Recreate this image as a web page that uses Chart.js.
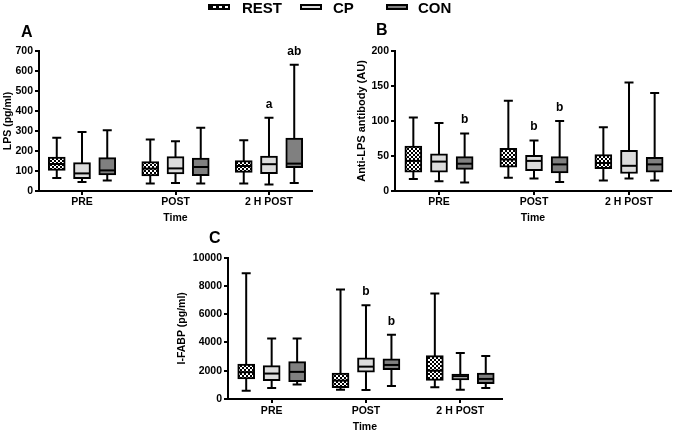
<!DOCTYPE html>
<html><head><meta charset="utf-8">
<script src="https://cdn.jsdelivr.net/npm/chart.js@4.4.1/dist/chart.umd.min.js"></script>
<style>
html,body{margin:0;padding:0;background:#fff;}
#wrap{position:relative;width:674px;height:433px;overflow:hidden;font-family:"Liberation Sans",Arial,sans-serif;background:#fff;}
canvas{position:absolute;}
.lbl{position:absolute;font-weight:bold;font-size:16px;line-height:18px;color:#000;}
.leg{position:absolute;top:0;height:16px;line-height:16px;font-weight:bold;font-size:15px;color:#000;}
.sw{position:absolute;top:4px;width:18px;height:2px;border:2px solid #000;}
</style></head><body>
<div id="wrap">
  <canvas id="cA" width="337" height="225" style="left:0px;top:0px"></canvas>
  <canvas id="cB" width="337" height="225" style="left:337px;top:0px"></canvas>
  <canvas id="cC" width="420" height="208" style="left:130px;top:225px"></canvas>
  <div class="sw" style="left:208px;background:repeating-linear-gradient(90deg,#000 0 3px,#fff 3px 6px);"></div>
  <div class="leg" style="left:242px">REST</div>
  <div class="sw" style="left:300px;background:#dcdcdc;"></div>
  <div class="leg" style="left:333px">CP</div>
  <div class="sw" style="left:386px;background:#808080;"></div>
  <div class="leg" style="left:418px">CON</div>
  <div class="lbl" style="left:21px;top:23px">A</div>
  <div class="lbl" style="left:376px;top:21px">B</div>
  <div class="lbl" style="left:209px;top:229px">C</div>
</div>
<script>
// ---------- DATA ----------
const timepoints = ['PRE', 'POST', '2 H POST'];
const seriesNames = ['REST', 'CP', 'CON'];
// each row: [min, Q1, median, Q3, max] for PRE, POST, 2 H POST
const lpsRest = [[65, 103, 135, 170, 266], [38, 75, 112, 147, 257], [37, 93, 125, 152, 254]];
const lpsCp   = [[45, 62, 88, 142, 295],   [40, 85, 113, 172, 249], [33, 87, 134, 174, 366]];
const lpsCon  = [[52, 80, 103, 167, 304],  [37, 77, 120, 164, 316], [40, 117, 137, 264, 631]];
const lpsTicks = [0, 700, 100];
const lpsMarks = [['2 H POST', 'CP', 'a'], ['2 H POST', 'CON', 'ab']];

const abRest = [[17, 27, 43, 64, 105], [19, 34, 45, 61, 129], [15, 32, 40, 52, 91]];
const abCp   = [[14, 27, 42, 53, 97],  [18, 29, 43, 51, 72],  [18, 25, 36, 58, 155]];
const abCon  = [[12, 31, 39, 49, 82],  [13, 26, 38, 49, 100], [15, 27, 38, 48, 140]];
const abTicks = [0, 200, 50];
const abMarks = [['PRE', 'CON', 'b'], ['POST', 'CP', 'b'], ['POST', 'CON', 'b']];

const fabpRest = [[590, 1420, 1900, 2480, 8900], [660, 800, 1300, 1840, 7750], [830, 1320, 2000, 3070, 7470]];
const fabpCp   = [[780, 1300, 1800, 2360, 4280], [640, 1890, 2290, 2910, 6640], [660, 1350, 1610, 1770, 3260]];
const fabpCon  = [[1020, 1230, 1920, 2650, 4280], [920, 2080, 2410, 2840, 4540], [780, 1090, 1420, 1840, 3050]];
const fabpTicks = [0, 10000, 2000];
const fabpMarks = [['POST', 'CP', 'b'], ['POST', 'CON', 'b']];

// ---------- STYLE ----------
const FONT = "'Liberation Sans', Arial, sans-serif";
Chart.defaults.font.family = FONT;
Chart.defaults.color = '#000';
const BOX_W = 17, CAP_W = 9, LW = 2, GROUP_OFF = 0.27;

function checker(ctx) {
  const c = document.createElement('canvas'); c.width = 4; c.height = 4;
  const g = c.getContext('2d');
  g.fillStyle = '#000'; g.fillRect(0, 0, 4, 4);
  g.fillStyle = '#fff'; g.fillRect(0, 0, 2, 2); g.fillRect(2, 2, 2, 2);
  return ctx.createPattern(c, 'repeat');
}

const boxPlugin = {
  id: 'boxwhisk',
  beforeDatasetsDraw(chart) {
    const ctx = chart.ctx, y = chart.scales.y;
    ctx.save(); ctx.strokeStyle = '#000'; ctx.lineWidth = LW; ctx.lineCap = 'butt';
    chart.data.datasets.forEach((ds, i) => {
      chart.getDatasetMeta(i).data.forEach((el, j) => {
        const s = ds.data[j].stats;
        const x = el.x, yMin = y.getPixelForValue(s[0]), yMax = y.getPixelForValue(s[4]);
        ctx.beginPath();
        ctx.moveTo(x, yMin); ctx.lineTo(x, yMax);
        ctx.moveTo(x - CAP_W / 2, yMin); ctx.lineTo(x + CAP_W / 2, yMin);
        ctx.moveTo(x - CAP_W / 2, yMax); ctx.lineTo(x + CAP_W / 2, yMax);
        ctx.stroke();
      });
    });
    ctx.restore();
  },
  afterDatasetsDraw(chart, args, opts) {
    const ctx = chart.ctx, y = chart.scales.y;
    ctx.save(); ctx.strokeStyle = '#000'; ctx.lineWidth = LW;
    chart.data.datasets.forEach((ds, i) => {
      chart.getDatasetMeta(i).data.forEach((el, j) => {
        const s = ds.data[j].stats;
        const ym = y.getPixelForValue(s[2]);
        ctx.beginPath(); ctx.moveTo(el.x - BOX_W / 2 + 1, ym); ctx.lineTo(el.x + BOX_W / 2 - 1, ym); ctx.stroke();
      });
    });
    ctx.fillStyle = '#000'; ctx.font = 'bold 12px ' + FONT; ctx.textAlign = 'center'; ctx.textBaseline = 'middle';
    (opts.marks || []).forEach(([tp, ser, txt]) => {
      const si = seriesNames.indexOf(ser), ti = timepoints.indexOf(tp);
      const el = chart.getDatasetMeta(si).data[ti];
      const s = chart.data.datasets[si].data[ti].stats;
      ctx.fillText(txt, el.x, y.getPixelForValue(s[4]) - 13.5);
    });
    ctx.restore();
  }
};

function makeChart(id, series, ticks, marks, cfg) {
  const ctx = document.getElementById(id).getContext('2d');
  const fills = [checker(ctx), '#dcdcdc', '#808080'];
  const datasets = series.map((rows, s) => ({
    label: seriesNames[s],
    data: rows.map((r, t) => ({ x: t + (s - 1) * GROUP_OFF, y: [r[1], r[3]], stats: r })),
    backgroundColor: fills[s], borderColor: '#000', borderWidth: 2, borderSkipped: false,
    barThickness: BOX_W, grouped: false
  }));
  const gridOpts = { offset: false, drawOnChartArea: false, drawTicks: true, tickLength: 4, color: '#000', lineWidth: 2 };
  const borderOpts = { display: true, color: '#000', width: 2 };
  return new Chart(ctx, {
    type: 'bar',
    data: { datasets },
    plugins: [boxPlugin],
    options: {
      responsive: false, animation: false, events: [],
      layout: { padding: cfg.pad },
      plugins: { legend: { display: false }, tooltip: { enabled: false }, boxwhisk: { marks } },
      scales: {
        x: {
          type: 'linear', min: cfg.xMin, max: cfg.xMax, offset: false,
          afterBuildTicks(sc) { sc.ticks = timepoints.map((_, i) => ({ value: i })); },
          ticks: { callback: v => timepoints[v], autoSkip: false, maxRotation: 0, color: '#000',
                   font: { size: 10.5, weight: 'bold' }, padding: cfg.xPad },
          grid: gridOpts, border: borderOpts,
          title: { display: true, text: 'Time', color: '#000', font: { size: 10.5, weight: 'bold' },
                   padding: { top: 0, bottom: cfg.tPad } },
          afterFit(sc) { sc.height = cfg.xH; }
        },
        y: {
          min: ticks[0], max: ticks[1],
          ticks: { stepSize: ticks[2], callback: v => String(v), color: '#000',
                   font: { size: 10.5, weight: 'bold' }, padding: 2 },
          grid: gridOpts, border: borderOpts,
          title: { display: true, text: cfg.yTitle, color: '#000', font: { size: cfg.ySize, weight: 'bold' },
                   padding: { top: cfg.yPad, bottom: 0 } },
          afterFit(sc) { sc.width = cfg.yW; }
        }
      }
    }
  });
}

makeChart('cA', [lpsRest, lpsCp, lpsCon], lpsTicks, lpsMarks,
  { pad: { left: 0, top: 51, right: 25, bottom: 0 }, xMin: -0.46, xMax: 2.46, xPad: 1, tPad: 0.7, xH: 34,
    yTitle: 'LPS (pg/ml)', ySize: 10.5, yPad: 1.7, yW: 39 });
makeChart('cB', [abRest, abCp, abCon], abTicks, abMarks,
  { pad: { left: 0, top: 51, right: 3, bottom: 0 }, xMin: -0.463, xMax: 2.442, xPad: 1, tPad: 0.7, xH: 34,
    yTitle: 'Anti-LPS antibody (AU)', ySize: 11, yPad: 18.4, yW: 58 });
makeChart('cC', [fabpRest, fabpCp, fabpCon], fabpTicks, fabpMarks,
  { pad: { left: 0, top: 32.7, right: 48.3, bottom: 0 }, xMin: -0.463, xMax: 2.439, xPad: 1.5, tPad: 0, xH: 34,
    yTitle: 'I-FABP (pg/ml)', ySize: 10.5, yPad: 45.7, yW: 98 });
</script>
</body></html>
